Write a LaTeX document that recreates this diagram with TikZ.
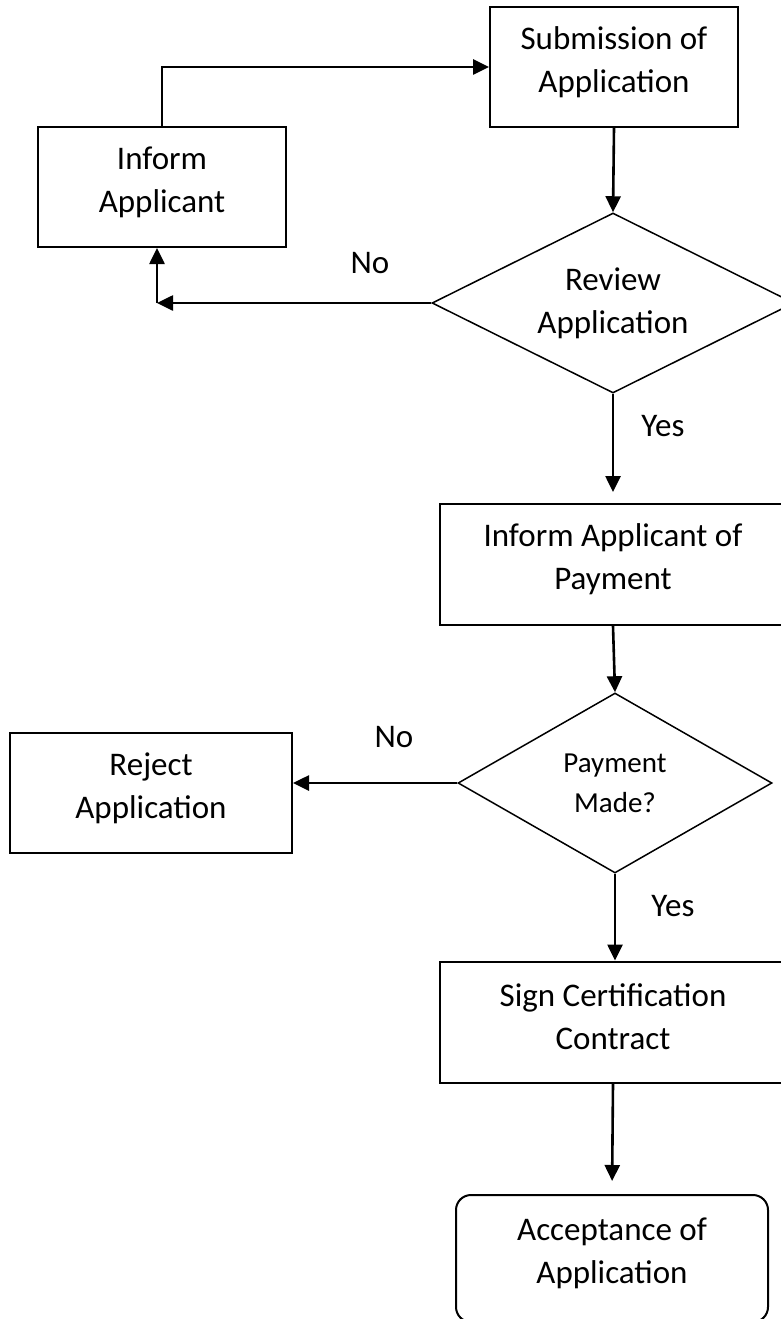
\documentclass[tikz,border=0pt]{standalone}
\usepackage{fontspec}
\setmainfont{Carlito}
\usetikzlibrary{shapes.geometric,arrows.meta}
\begin{document}
\begin{tikzpicture}[x=1pt,y=-1pt,
 box/.style={draw, line width=2pt, rectangle, inner sep=0pt},
 txt/.style={align=center, inner sep=0pt, font=\fontsize{33}{43}\selectfont, yshift=5pt},
 dec/.style={draw, line width=1.5pt, diamond, inner sep=0pt, align=center},
 arr/.style={line width=2.6pt, -{Triangle[length=16pt,width=15pt]}},
 lbl/.style={font=\fontsize{33}{43}\selectfont, inner sep=0pt}]
\useasboundingbox (0,0) rectangle (780,1319);
\node[box, minimum width=248pt, minimum height=120pt, label={[txt]center:Submission of\\Application}] (sub) at (614,67) {};
\node[box, minimum width=248pt, minimum height=120pt, label={[txt]center:Inform\\Applicant}] (inf) at (162,187) {};
\node[dec, aspect=2.011, minimum width=362pt, minimum height=180pt, font=\fontsize{33}{43}\selectfont] (rev) at (613,303) {Review\\Application};
\node[box, minimum width=346pt, minimum height=121pt, label={[txt]center:Inform Applicant of\\Payment}] (pay) at (613,564.5) {};
\node[dec, aspect=1.744, minimum width=314pt, minimum height=180pt, font=\fontsize{29}{40}\selectfont] (made) at (615,783) {Payment\\Made?};
\node[box, minimum width=282pt, minimum height=120pt, label={[txt]center:Reject\\Application}] (rej) at (151,793) {};
\node[box, minimum width=346pt, minimum height=121pt, label={[txt]center:Sign Certification\\Contract}] (sign) at (613,1022) {};
\node[box, rounded corners=15pt, minimum width=312pt, minimum height=127pt, label={[txt]center:Acceptance of\\Application}] (acc) at (612,1258.5) {};

\coordinate (c1) at (157,303);
\draw[arr] (inf.north) |- (sub.west);
\draw[arr] (sub.south) -- (rev.north);
\draw[arr] (rev.west) -- (c1);
\draw[arr] (c1) -- (c1 |- inf.south);
\draw[arr, shorten >=11pt] (rev.south) -- (pay.north);
\draw[arr] (pay.south) -- (made.north);
\draw[arr] (made.west) -- (made.west -| rej.east);
\draw[arr] (made.south) -- (made.south |- sign.north);
\draw[arr, shorten >=13pt] (sign.south) -- (acc.north);

\node[lbl] (no1) at (370,263) {No};
\node[lbl] (yes1) at (663,426) {Yes};
\node[lbl] (no2) at (394,737) {No};
\node[lbl] (yes2) at (673,906) {Yes};
\end{tikzpicture}
\end{document}
